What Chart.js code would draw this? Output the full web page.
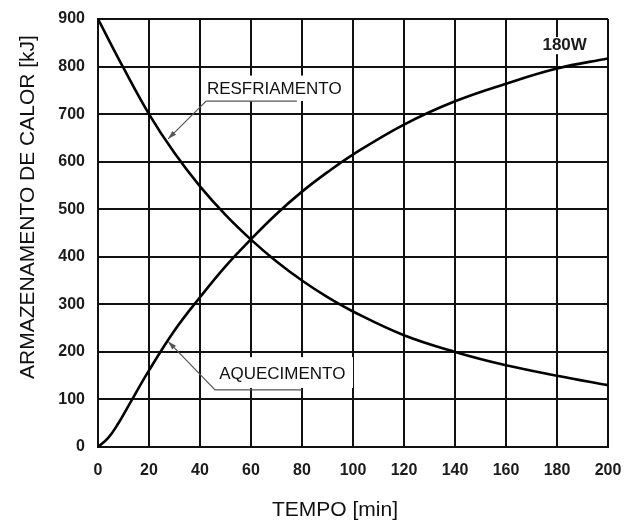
<!DOCTYPE html>
<html>
<head>
<meta charset="utf-8">
<script src="https://cdn.jsdelivr.net/npm/chart.js@4/dist/chart.umd.min.js"></script>
<style>
  html, body { margin: 0; padding: 0; background: #fff; }
  #wrap { width: 625px; height: 526px; }
</style>
</head>
<body>
<div id="wrap"><canvas id="heatChart" width="625" height="526"></canvas></div>
<script>
'use strict';

/* --------------------------------------------------------------------------
   DATA
   -------------------------------------------------------------------------- */
const coolTime  = [0, 10, 20, 30, 40, 50, 60, 70, 80, 90, 100, 120, 140, 160, 180, 200];
const coolHeat  = [900, 797, 700, 618, 548, 488, 436, 390, 350, 315, 285, 235, 200, 172, 150, 130];

const warmTime  = [0, 4, 8, 12, 20, 30, 40, 50, 60, 70, 80, 90, 100, 120, 140, 160, 180, 200];
const warmHeat  = [0, 19, 50, 87, 161, 245, 315, 380, 437, 490, 537, 578, 615, 678, 727, 764, 796, 817];

const xTicks = [0, 20, 40, 60, 80, 100, 120, 140, 160, 180, 200];
const yTicks = [0, 100, 200, 300, 400, 500, 600, 700, 800, 900];

const xTitle = 'TEMPO [min]';
const yTitle = 'ARMAZENAMENTO DE CALOR [kJ]';
const coolLabel = 'RESFRIAMENTO';
const warmLabel = 'AQUECIMENTO';
const powerLabel = '180W';

const toPoints = (xs, ys) => xs.map((x, i) => ({ x, y: ys[i] }));

/* --------------------------------------------------------------------------
   LABELS + LEADERS (positioned in data units)
   -------------------------------------------------------------------------- */
const labelPlugin = {
    id: 'heatLabels',
    afterDatasetsDraw(chart) {
        const { ctx, scales: { x, y } } = chart;
        const px = v => x.getPixelForValue(v);
        const py = v => y.getPixelForValue(v);

        function box(x0, x1, y0, y1) {
            ctx.fillStyle = '#fff';
            ctx.fillRect(px(x0), py(y0), px(x1) - px(x0), py(y1) - py(y0));
        }
        function leader(ex, ey, endX, tipX, tipY) {
            ctx.save();
            ctx.strokeStyle = '#555';
            ctx.lineWidth = 1.2;
            ctx.beginPath();
            ctx.moveTo(px(endX), py(ey));
            ctx.lineTo(px(ex), py(ey));
            ctx.lineTo(px(tipX), py(tipY));
            ctx.stroke();
            // arrow head
            const ang = Math.atan2(py(tipY) - py(ey), px(tipX) - px(ex));
            const len = 9;
            ctx.fillStyle = '#555';
            ctx.beginPath();
            ctx.moveTo(px(tipX), py(tipY));
            ctx.lineTo(px(tipX) - len * Math.cos(ang - 0.3), py(tipY) - len * Math.sin(ang - 0.3));
            ctx.lineTo(px(tipX) - len * Math.cos(ang + 0.3), py(tipY) - len * Math.sin(ang + 0.3));
            ctx.closePath();
            ctx.fill();
            ctx.restore();
        }

        ctx.save();
        // RESFRIAMENTO
        box(41.2, 99.6, 781, 727.5);
        leader(42.4, 727.5, 78, 27.5, 648);
        ctx.fillStyle = '#111';
        ctx.font = '17px "Liberation Sans", Arial, sans-serif';
        ctx.textBaseline = 'middle';
        ctx.textAlign = 'left';
        ctx.fillText(coolLabel, px(42.7), py(752));

        // AQUECIMENTO
        box(45.9, 100, 189, 124);
        leader(45.9, 120, 80, 27.5, 222);
        ctx.fillStyle = '#111';
        ctx.fillText(warmLabel, px(47.5), py(153.5));

        // 180W
        box(173.3, 193, 862, 826);
        ctx.fillStyle = '#1b1b1b';
        ctx.font = 'bold 17px "Liberation Sans", Arial, sans-serif';
        ctx.textAlign = 'center';
        ctx.fillText(powerLabel, px(183), py(844));
        ctx.restore();
    },
    afterDraw(chart) {
        const { ctx } = chart;
        ctx.save();
        ctx.fillStyle = '#111';
        ctx.font = '21px "Liberation Sans", Arial, sans-serif';
        ctx.textAlign = 'center';
        ctx.textBaseline = 'middle';
        ctx.fillText(xTitle, 335, 510);
        ctx.translate(28, 207);
        ctx.rotate(-Math.PI / 2);
        ctx.fillText(yTitle, 0, 0);
        ctx.restore();
    },
};

/* --------------------------------------------------------------------------
   CHART
   -------------------------------------------------------------------------- */
const tickFont = { family: '"Liberation Sans", Arial, sans-serif', size: 16, weight: 'bold' };
const gridStyle = { color: '#111', lineWidth: 2, drawTicks: false };

new Chart(document.getElementById('heatChart').getContext('2d'), {
    type: 'line',
    data: {
        datasets: [
            {
                label: coolLabel,
                data: toPoints(coolTime, coolHeat),
                borderColor: '#000',
                borderWidth: 2.6,
                pointRadius: 0,
                tension: 0.4,
                fill: false,
            },
            {
                label: warmLabel,
                data: toPoints(warmTime, warmHeat),
                borderColor: '#000',
                borderWidth: 2.6,
                pointRadius: 0,
                tension: 0.4,
                fill: false,
            },
        ],
    },
    options: {
        responsive: false,
        animation: false,
        layout: { padding: { left: 0, right: 17, top: 19, bottom: 0 } },
        plugins: {
            legend: { display: false },
            tooltip: { enabled: false },
        },
        scales: {
            x: {
                type: 'linear',
                min: 0,
                max: 200,
                afterBuildTicks: s => { s.ticks = xTicks.map(v => ({ value: v })); },
                afterFit: s => { s.height = 79; s.paddingLeft = 0; s.paddingRight = 0; },
                grid: gridStyle,
                border: { color: '#111', width: 2 },
                ticks: { color: '#1b1b1b', font: tickFont, padding: 14, maxRotation: 0 },
            },
            y: {
                min: 0,
                max: 900,
                afterBuildTicks: s => { s.ticks = yTicks.map(v => ({ value: v })); },
                afterFit: s => { s.width = 98; s.paddingTop = 0; s.paddingBottom = 0; },
                grid: gridStyle,
                border: { color: '#111', width: 2 },
                ticks: { color: '#1b1b1b', font: tickFont, padding: 13 },
            },
        },
    },
    plugins: [labelPlugin],
});
</script>
</body>
</html>
